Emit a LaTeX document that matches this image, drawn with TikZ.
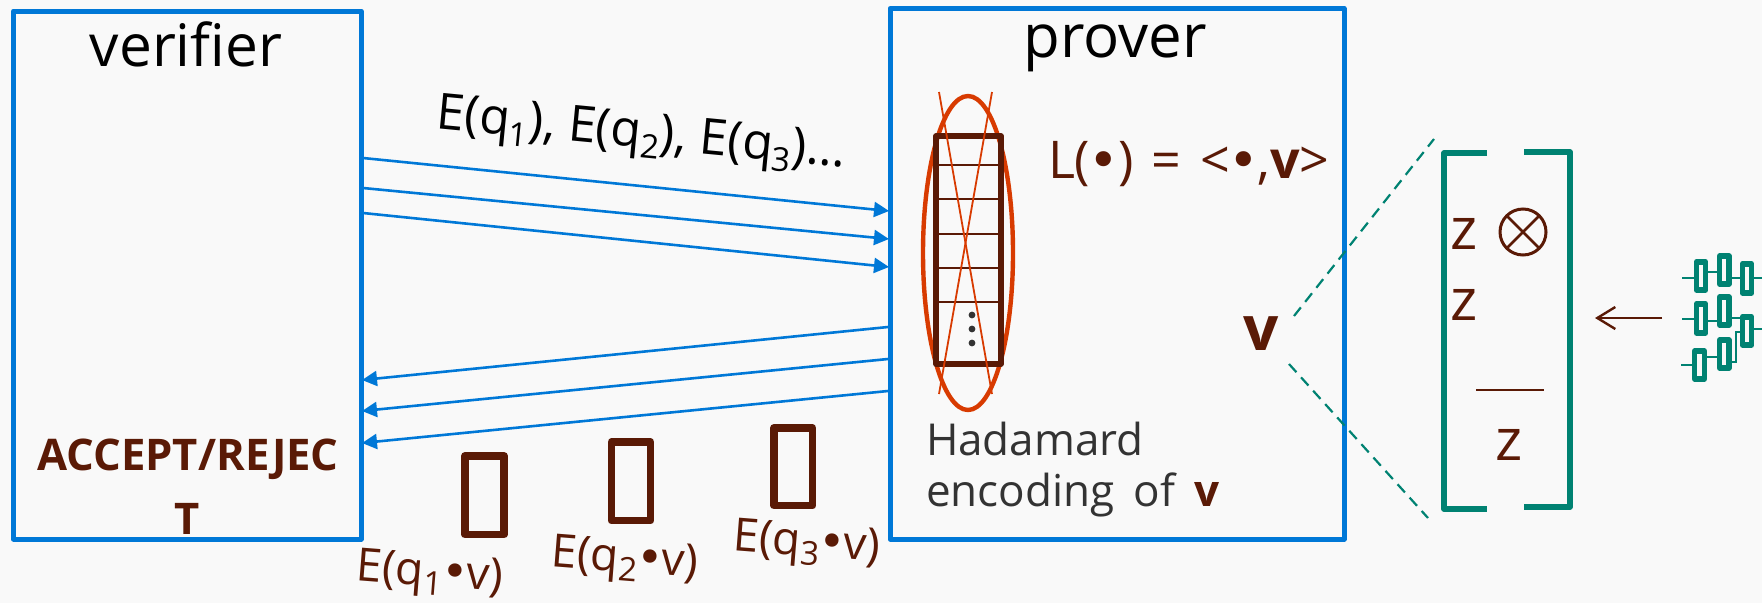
\documentclass[tikz,border=0pt]{standalone}
\usepackage{fontspec}
\setmainfont{Open Sans}
\newfontfamily\bulfont{DejaVu Sans}
\usetikzlibrary{arrows.meta,shapes.geometric}
\definecolor{bgc}{HTML}{F9F9F9}
\definecolor{blu}{HTML}{0078D7}
\definecolor{brn}{HTML}{5A1A06}
\definecolor{org}{HTML}{D83B01}
\definecolor{tea}{HTML}{008272}
\definecolor{gry}{HTML}{333333}
\newcommand\fs[1]{\fontsize{#1pt}{#1pt}\selectfont}
\newcommand\sbq[1]{\raisebox{-0.2em}{\fs{33}#1}}
\newcommand\blt{{\bulfont\kern-1.5pt •\kern-1.5pt}}
\tikzset{
  party/.style={draw=blu,line width=5pt,line join=round},
  msg/.style={draw=blu,line width=2.6pt,-{Triangle[length=15pt,width=15pt]}},
  ans/.style={draw=brn,line width=7.8pt,line join=round},
  txt/.style={inner sep=0pt,outer sep=0pt},
  gate/.style={draw=tea,line width=5.4pt,line join=round,fill=bgc},
  wire/.style={draw=tea,line width=2pt},
  brk/.style={draw=tea,line width=5.2pt,line join=round},
  dsh/.style={draw=tea,line width=2.2pt,dash pattern=on 11pt off 7pt},
  cell/.style={draw=brn,line width=1.8pt},
}
\begin{document}
\begin{tikzpicture}[x=1pt,y=-1pt]
\useasboundingbox (0,0) rectangle (1762,603);
\fill[bgc] (0,0) rectangle (1762,603);
% parties
\path[party] (13.5,11) rectangle (361,539);
\path[party] (890,8.5) rectangle (1344,539);
\node[txt,anchor=base,font=\fs{58.6}] (ver) at (186,66) {verifier};
\node[txt,anchor=base,font=\fs{60}] (pro) at (1115,57) {prover};
% messages
\coordinate (a1) at (363,158); \coordinate (b1) at (889,211);
\coordinate (a2) at (363,188); \coordinate (b2) at (889,239);
\coordinate (a3) at (363,213); \coordinate (b3) at (889,267);
\coordinate (c1) at (888,327); \coordinate (d1) at (362,380);
\coordinate (c2) at (888,359); \coordinate (d2) at (362,411);
\coordinate (c3) at (888,391); \coordinate (d3) at (362,443);
\draw[msg] (a1)--(b1); \draw[msg] (a2)--(b2); \draw[msg] (a3)--(b3);
\draw[msg] (c1)--(d1); \draw[msg] (c2)--(d2); \draw[msg] (c3)--(d3);
\node[txt,rotate=-5.5,font=\fs{50}] (enc) at (641,136) {E(q\sbq{1}), E(q\sbq{2}), E(q\sbq{3})…};
% accept
\node[txt,anchor=base,text=brn,font=\fs{43.6}\bfseries] (acc) at (188,470) {ACCEPT/REJEC};
\node[txt,anchor=base,text=brn,font=\fs{43.6}\bfseries] (act) at (187,534) {T};
% answers
\path[ans] (465,456) rectangle (504,534.5);
\path[ans] (611.5,442) rectangle (650.5,520.5);
\path[ans] (774,428) rectangle (812.5,505.5);
\node[txt,rotate=-4.5,text=brn,font=\fs{46}] (e1) at (430,575) {E(q\sbq{1}\blt v)};
\node[txt,rotate=-4.5,text=brn,font=\fs{46}] (e2) at (625,561) {E(q\sbq{2}\blt v)};
\node[txt,rotate=-4.5,text=brn,font=\fs{46}] (e3) at (807,545) {E(q\sbq{3}\blt v)};
% Hadamard table
\draw[org,line width=4.4pt] (968,253) ellipse [x radius=45,y radius=157];
\foreach \yy in {165,199,234,268,302}{\draw[cell] (937,\yy)--(1000,\yy);}
\draw[brn,line width=5.8pt,line join=round] (936,136) rectangle (1001,364);
\draw[org,line width=1.8pt] (939,92)--(992,394);
\draw[org,line width=1.8pt] (992,92)--(939,394);
\foreach \yy in {315,329,343}{\fill[gry] (972,\yy) circle (3.4);}
\node[txt,anchor=base west,text=brn,font=\fs{52}] (lin) at (1048,178) {L(\blt)\hspace{5pt} = \hspace{5pt}<\blt,\textbf{v}>};
\node[txt,anchor=base west,text=gry,font=\fs{44}] (had) at (926,455) {Hadamard};
\node[txt,anchor=base west,text=gry,font=\fs{44}] (hen) at (926,506) {encoding\hspace{8pt} of\hspace{8pt} \textcolor{brn}{\textbf{v}}};
% v and zoom lines
\node[txt,anchor=base,text=brn,font=\fs{62}\bfseries] (vv) at (1261,350) {v};
\coordinate (t1) at (1294,316); \coordinate (t2) at (1434,139);
\coordinate (u1) at (1289,364); \coordinate (u2) at (1428,518);
\draw[dsh] (t1)--(t2);
\draw[dsh] (u1)--(u2);
% bracket
\path[brk] (1487,153)--(1444,153)--(1444,509)--(1487,509);
\path[brk] (1524,152)--(1570,152)--(1570,507)--(1524,507);
\node[txt,anchor=base,text=brn,font=\fs{58}] (z1) at (1464,249) {z};
\node[txt,anchor=base,text=brn,font=\fs{58}] (z2) at (1464,320) {z};
\draw[brn,line width=2pt] (1476,390)--(1544,390);
\node[txt,anchor=base,text=brn,font=\fs{58}] (z3) at (1509,460) {z};
\draw[brn,line width=3pt] (1523,232) circle (23);
\draw[brn,line width=2.6pt] (1506.7,215.7)--(1539.3,248.3) (1539.3,215.7)--(1506.7,248.3);
% circuit arrow
\coordinate (ca) at (1662,318); \coordinate (cb) at (1595,318);
\draw[brn,line width=2.4pt,-{Straight Barb[length=18pt,width=22pt,line width=2.4pt]}] (ca)--(cb);
% circuit
\draw[wire] (1682,278)--(1695,278) (1707,272)--(1719,272) (1730,278)--(1741,278) (1753,278)--(1762,278);
\draw[wire] (1682,319)--(1695,319) (1707,321)--(1719,321) (1730,318)--(1742,318) (1753,329)--(1762,329);
\draw[wire] (1681,365)--(1694,365) (1705,357)--(1719,357);
\draw[wire] (1730,362)--(1736,362)--(1736,332)--(1742,332);
\path[gate] (1696.25,262) rectangle (1705.75,290);
\path[gate] (1719.5,256) rectangle (1729,284);
\path[gate] (1742.25,264) rectangle (1751.75,293);
\path[gate] (1696.25,304) rectangle (1705.75,333);
\path[gate] (1719.5,297) rectangle (1729,325);
\path[gate] (1742.25,317) rectangle (1751.75,345);
\path[gate] (1694.7,351) rectangle (1704.3,379);
\path[gate] (1719.5,340) rectangle (1729,368);
\end{tikzpicture}
\end{document}
